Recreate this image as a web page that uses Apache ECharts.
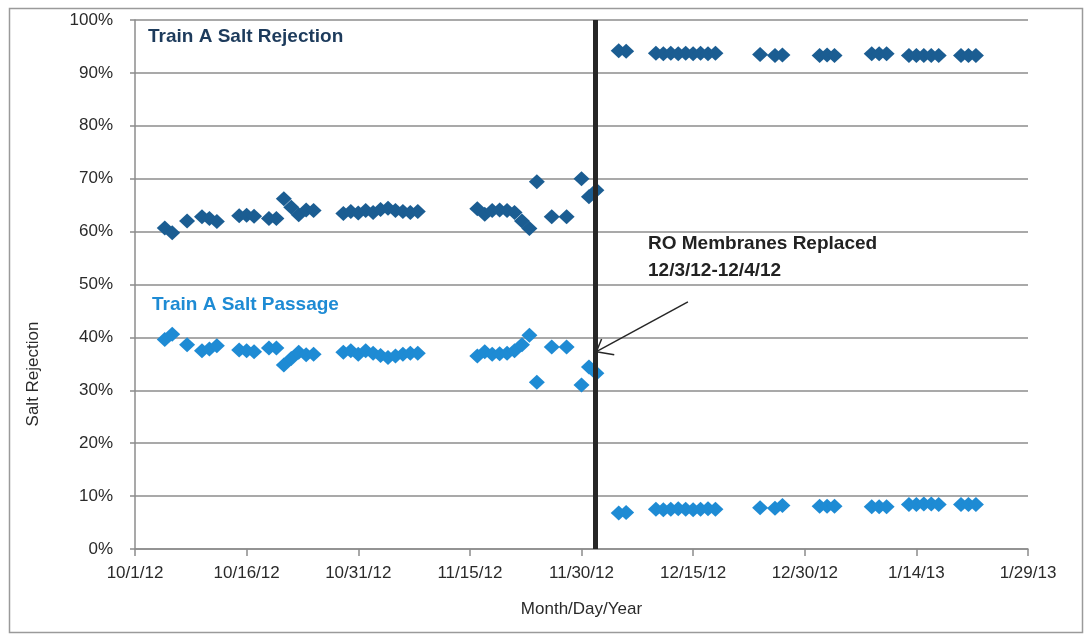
<!DOCTYPE html>
<html>
<head>
<meta charset="utf-8">
<script src="https://cdn.jsdelivr.net/npm/echarts@6/dist/echarts.min.js"></script>
<style>
  html, body { margin: 0; padding: 0; background: #fff; }
  #chart { width: 1084px; height: 637px; }
</style>
</head>
<body>
<div id="chart"></div>
<script>
// sample dates (M/D/YY)
const dates = [
  '10/5/12', '10/6/12', '10/8/12', '10/10/12', '10/11/12', '10/12/12', '10/15/12', '10/16/12',
  '10/17/12', '10/19/12', '10/20/12', '10/21/12', '10/22/12', '10/23/12', '10/24/12', '10/25/12',
  '10/29/12', '10/30/12', '10/31/12', '11/1/12', '11/2/12', '11/3/12', '11/4/12', '11/5/12',
  '11/6/12', '11/7/12', '11/8/12',
  '11/16/12', '11/17/12', '11/18/12', '11/19/12', '11/20/12', '11/21/12', '11/22/12', '11/23/12',
  '11/24/12', '11/26/12', '11/28/12', '11/30/12', '12/1/12', '12/2/12',
  '12/5/12', '12/6/12',
  '12/10/12', '12/11/12', '12/12/12', '12/13/12', '12/14/12', '12/15/12', '12/16/12', '12/17/12', '12/18/12',
  '12/24/12', '12/26/12', '12/27/12',
  '1/1/13', '1/2/13', '1/3/13',
  '1/8/13', '1/9/13', '1/10/13',
  '1/13/13', '1/14/13', '1/15/13', '1/16/13', '1/17/13',
  '1/20/13', '1/21/13', '1/22/13'
];

const saltRejection = [
  60.7, 59.8, 62.0, 62.8, 62.5, 61.9, 63.0, 63.1, 62.9, 62.5, 62.5, 66.2, 64.6, 63.2, 64.1, 64.0,
  63.4, 63.8, 63.5, 64.0, 63.6, 64.2, 64.4, 64.0, 63.8, 63.6, 63.8,
  64.3, 63.3, 64.0, 64.1, 64.0, 63.6, 62.0, 60.6, 69.4, 62.8, 62.8, 70.0, 66.6, 67.8,
  94.2, 94.1,
  93.7, 93.6, 93.7, 93.6, 93.7, 93.6, 93.7, 93.6, 93.7,
  93.5, 93.3, 93.4,
  93.3, 93.4, 93.3,
  93.6, 93.6, 93.6,
  93.3, 93.3, 93.3, 93.3, 93.3,
  93.3, 93.3, 93.3
];

const saltPassage = [
  39.6, 40.6, 38.6, 37.5, 37.8, 38.4, 37.6, 37.5, 37.3, 38.0, 38.0, 34.8, 36.0, 37.2, 36.7, 36.8,
  37.2, 37.5, 36.8, 37.5, 37.0, 36.6, 36.2, 36.5, 36.8, 37.0, 37.0,
  36.5, 37.3, 36.8, 36.9, 37.0, 37.5, 38.6, 40.4, 31.5, 38.2, 38.2, 31.0, 34.4, 33.2,
  6.8, 6.9,
  7.5, 7.4, 7.5, 7.6, 7.5, 7.4, 7.5, 7.6, 7.5,
  7.8, 7.7, 8.2,
  8.1, 8.1, 8.1,
  8.0, 8.0, 8.0,
  8.4, 8.4, 8.5, 8.5, 8.4,
  8.4, 8.4, 8.4
];

const yTicks = [0, 10, 20, 30, 40, 50, 60, 70, 80, 90, 100];

// x axis runs in days from 10/1/12
const BASE = Date.UTC(2012, 9, 1);
const DAY = 86400000;
function dayOf(s) {
  const [m, d, y] = s.split('/').map(Number);
  return (Date.UTC(2000 + y, m - 1, d) - BASE) / DAY;
}
function fmtDay(v) {
  const dt = new Date(BASE + v * DAY);
  return (dt.getUTCMonth() + 1) + '/' + dt.getUTCDate() + '/' + String(dt.getUTCFullYear()).slice(2);
}

// annotation geometry, in data units (day, %)
const replacedDay = 61.8; // vertical marker between 12/2 and 12/3
const arrowFrom = [74.3, 46.7];
const arrowTip = [62.0, 37.3];
const arrowWingA = [62.7, 39.7];
const arrowWingB = [64.4, 36.7];

const FONT = '"Liberation Sans", Arial, sans-serif';
const AXIS_COLOR = '#8c8c8c';
const TEXT_COLOR = '#2a2a2a';

const chart = echarts.init(document.getElementById('chart'));

const option = {
  animation: false,
  backgroundColor: '#fff',
  grid: { left: 135, right: 56, top: 20, bottom: 88 },
  xAxis: {
    type: 'value',
    min: 0,
    max: 120,
    interval: 15,
    name: 'Month/Day/Year',
    nameLocation: 'middle',
    nameGap: 52,
    nameTextStyle: { fontFamily: FONT, fontSize: 17, color: TEXT_COLOR },
    axisLine: { lineStyle: { color: AXIS_COLOR, width: 1.5 } },
    axisTick: { show: true, length: 7, lineStyle: { color: AXIS_COLOR, width: 1.5 } },
    splitLine: { show: false },
    axisLabel: {
      margin: 16,
      fontFamily: FONT,
      fontSize: 17,
      color: TEXT_COLOR,
      formatter: fmtDay
    }
  },
  yAxis: {
    type: 'value',
    min: yTicks[0],
    max: yTicks[yTicks.length - 1],
    interval: 10,
    axisLine: { show: true, lineStyle: { color: AXIS_COLOR, width: 1.5 } },
    axisTick: { show: true, length: 5, lineStyle: { color: AXIS_COLOR, width: 1.5 } },
    splitLine: { show: true, lineStyle: { color: AXIS_COLOR, width: 1.5 } },
    axisLabel: {
      margin: 22,
      fontFamily: FONT,
      fontSize: 17,
      color: TEXT_COLOR,
      formatter: '{value}%'
    }
  },
  series: [
    {
      name: 'Train A Salt Rejection',
      type: 'scatter',
      symbol: 'diamond',
      symbolSize: [16, 15],
      itemStyle: { color: '#1b5d92', opacity: 1 },
      data: dates.map((d, i) => [dayOf(d), saltRejection[i]]),
      markLine: {
        silent: true,
        symbol: 'none',
        label: { show: false },
        lineStyle: { color: '#262626', width: 5, type: 'solid' },
        data: [{ xAxis: replacedDay }]
      },
      z: 3
    },
    {
      name: 'Train A Salt Passage',
      type: 'scatter',
      symbol: 'diamond',
      symbolSize: [16, 15],
      itemStyle: { color: '#1e8bd4', opacity: 1 },
      data: dates.map((d, i) => [dayOf(d), saltPassage[i]]),
      markLine: {
        silent: true,
        symbol: 'none',
        label: { show: false },
        lineStyle: { color: '#262626', width: 1.5, type: 'solid' },
        data: [
          [{ coord: arrowFrom }, { coord: arrowTip }],
          [{ coord: arrowTip }, { coord: arrowWingA }],
          [{ coord: arrowTip }, { coord: arrowWingB }]
        ]
      },
      z: 4
    }
  ],
  graphic: [
    {
      type: 'rect',
      left: 7, top: 6,
      shape: { width: 1073, height: 624 },
      style: { fill: 'none', stroke: '#9a9a9a', lineWidth: 1.5 },
      z: -1
    },
    {
      type: 'text',
      left: 148, top: 27,
      style: { text: 'Train A Salt Rejection', font: 'bold 19px ' + FONT, fill: '#1d3b5c' }
    },
    {
      type: 'text',
      left: 152, top: 295,
      style: { text: 'Train A Salt Passage', font: 'bold 19px ' + FONT, fill: '#1e8bd4' }
    },
    {
      type: 'text',
      left: 648, top: 230,
      style: {
        text: 'RO Membranes Replaced\n12/3/12-12/4/12',
        font: 'bold 19px ' + FONT,
        lineHeight: 27,
        fill: '#222'
      }
    },
    {
      type: 'text',
      x: 33, y: 374,
      rotation: Math.PI / 2,
      style: {
        text: 'Salt Rejection',
        font: '17px ' + FONT,
        fill: TEXT_COLOR,
        align: 'center',
        verticalAlign: 'middle'
      }
    }
  ]
};

chart.setOption(option);
</script>
</body>
</html>
